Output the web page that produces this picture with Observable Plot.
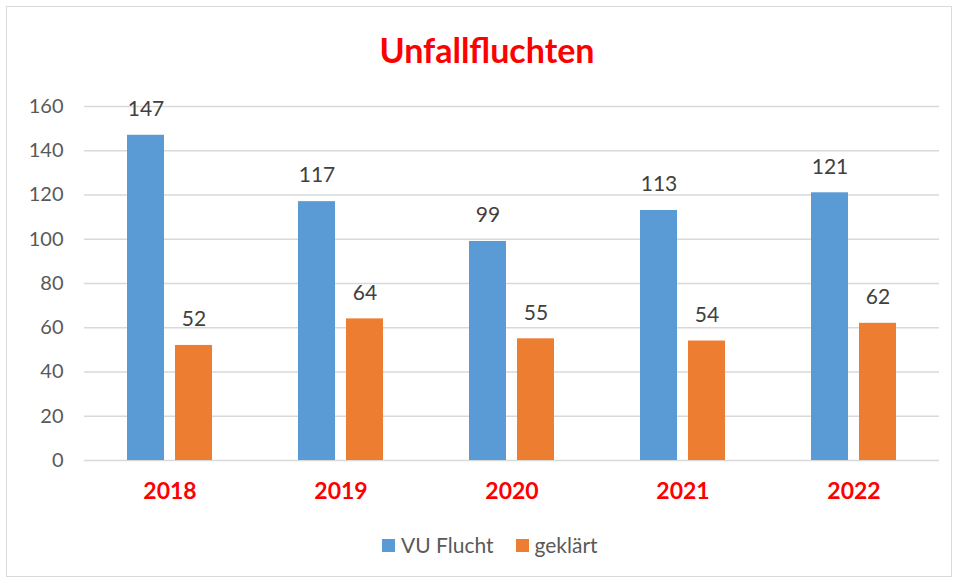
<!DOCTYPE html>
<html><head><meta charset="utf-8">
<script src="https://cdn.jsdelivr.net/npm/d3@7"></script>
<script src="https://cdn.jsdelivr.net/npm/@observablehq/plot@0.6"></script>
<style>
body{margin:0;background:#fff;font-family:Lato,sans-serif}
#frame{position:absolute;left:6px;top:6px;width:946px;height:571px;border:1.5px solid #d9d9d9;box-sizing:border-box}
#title{position:absolute;left:0;width:974px;top:30px;text-align:center;color:#ff0000;font-weight:bold;font-size:34px;line-height:40px}
#chart{position:absolute;left:0;top:0}
#legend{position:absolute;left:382px;top:532px;display:flex;align-items:center;font-size:21px;color:#595959;line-height:26px}
.sw{display:inline-block;width:13px;height:13px;margin-right:6px}
.item{display:flex;align-items:center;margin-right:22px}
</style></head>
<body>
<div id="frame"></div>
<div id="title">Unfallfluchten</div>
<div id="chart"></div>
<div id="legend"></div>
<script>
const years = ["2018","2019","2020","2021","2022"];
const series = ["VU Flucht","geklärt"];
const vuFlucht = [147,117,99,113,121];
const geklaert = [52,64,55,54,62];
const yTicks = [0,20,40,60,80,100,120,140,160];
const colors = ["#5b9bd5","#ed7d31"];

const data = years.flatMap((yr,i)=>[
  {year:yr, series:series[0], value:vuFlucht[i]},
  {year:yr, series:series[1], value:geklaert[i]}
]);

const chart = Plot.plot({
  width:957, height:579,
  marginLeft:83, marginRight:17, marginTop:106, marginBottom:119,
  style:{fontFamily:"Lato, sans-serif", background:"transparent", overflow:"visible"},
  fx:{domain:years, padding:0, label:null},
  x:{domain:series, paddingInner:0.2245, paddingOuter:0.862, axis:null},
  y:{domain:[0,160], label:null},
  color:{domain:series, range:colors},
  marks:[
    Plot.ruleY(yTicks, {stroke:"#d9d9d9", strokeWidth:1.5}),
    Plot.barY(data, {fx:"year", x:"series", y:"value", fill:"series"}),
    Plot.text(data, {fx:"year", x:"series", y:"value", text:d=>String(d.value), dy:-26, fill:"#404040", fontSize:21}),
    Plot.axisY({ticks:yTicks, tickSize:0, tickPadding:21, fontSize:20, fill:"#595959", label:null}),
    Plot.axisFx({anchor:"bottom", tickSize:0, tickPadding:22, fontSize:23, fontWeight:"bold", fill:"#ff0000", label:null})
  ]
});
document.getElementById("chart").appendChild(chart);

const lg = document.getElementById("legend");
series.forEach((s,i)=>{
  const it = document.createElement("span"); it.className="item";
  const sw = document.createElement("span"); sw.className="sw"; sw.style.background=colors[i];
  it.appendChild(sw); it.appendChild(document.createTextNode(s));
  lg.appendChild(it);
});
</script>
</body></html>
